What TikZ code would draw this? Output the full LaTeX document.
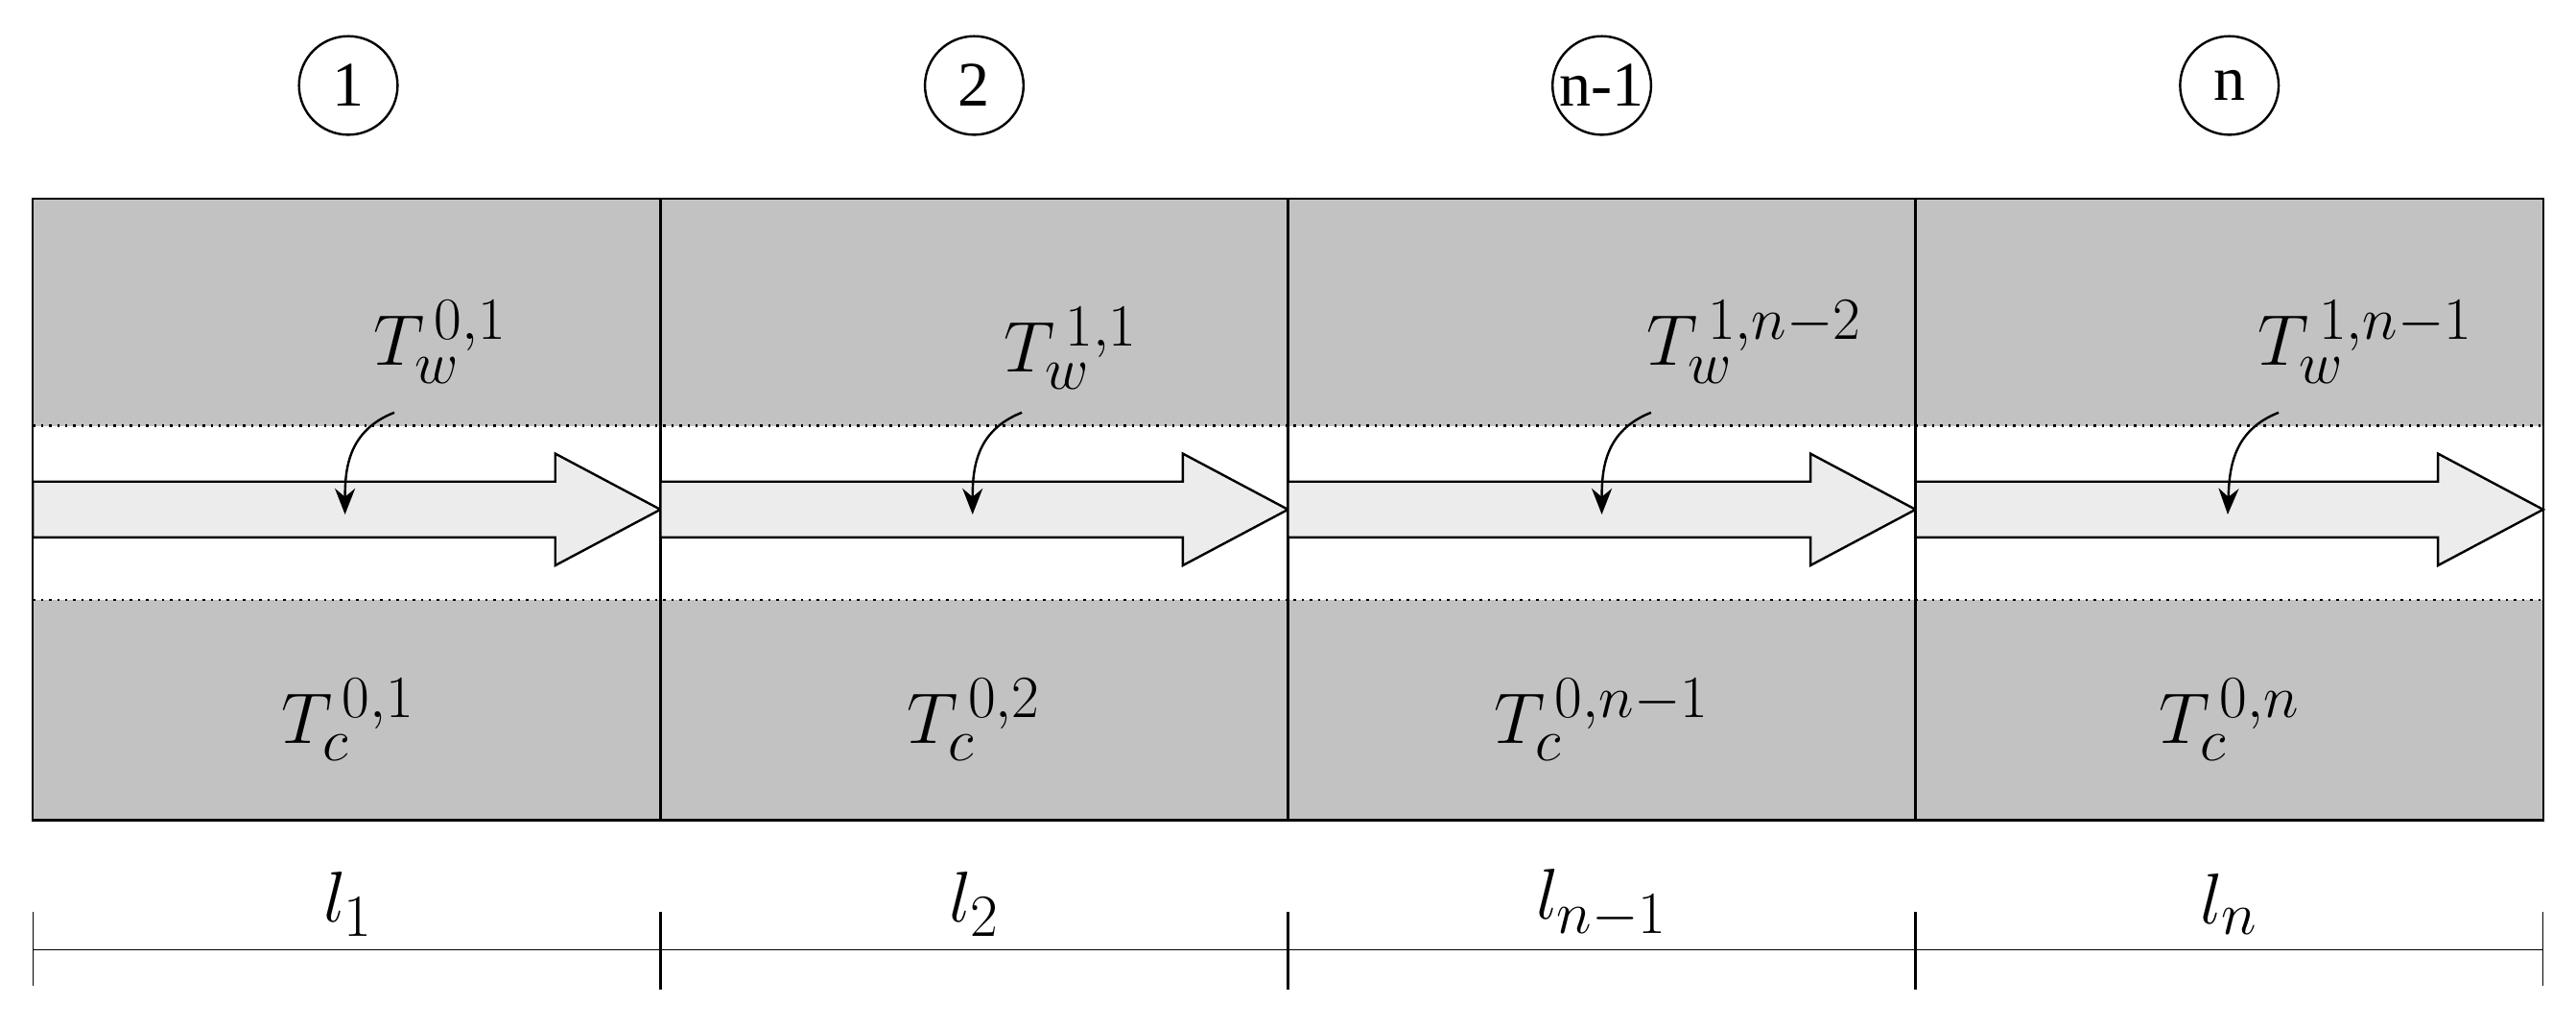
\documentclass[tikz,border=0pt]{standalone}
\usepackage{fontspec}
\setmainfont{Liberation Serif}
\usetikzlibrary{arrows.meta}
\begin{document}
\begin{tikzpicture}[x=0.02cm,y=-0.02cm,
  num/.style={circle,draw,thick,minimum size=1.2cm,inner sep=0pt,font=\fontsize{22}{24}\selectfont},
  lab/.style={font=\fontsize{30}{32}\selectfont},
  dim/.style={font=\fontsize{30}{32}\selectfont},
  flow/.style={draw,thick,fill=gray!15},
  curv/.style={thick,-{Stealth[length=9pt,width=7pt]}}]
\useasboundingbox (0,0) rectangle (1568,625);
\fill[gray!48] (20,121) rectangle (1548,499);
\fill[white] (20,259) rectangle (1548,365);
\draw[thick,dotted] (20,259) -- (1548,259) (20,365) -- (1548,365);
\draw[thick] (20,121) rectangle (1548,499);
\foreach \a in {402,784,1166} \draw[thick] (\a,121) -- (\a,499);
\foreach \s/\i in {0/a,382/b,764/c,1146/d}{
  \draw[flow] (20+\s,293) -- (338+\s,293) -- (338+\s,276) -- (402+\s,310) -- (338+\s,344) -- (338+\s,327) -- (20+\s,327) -- cycle;
}
\node[num] (n1) at (212,52) {1};
\node[num] (n2) at (593,52) {2};
\node[num] (n3) at (975,52) {n-1};
\node[num] (n4) at (1357,52) {n};
\node[lab] (w1) at (268,208) {$T_w^{\,0,1}$};
\node[lab] (w2) at (652,212) {$T_w^{\,1,1}$};
\node[lab] (w3) at (1068,208) {$T_w^{\,1,n-2}$};
\node[lab] (w4) at (1440,208) {$T_w^{\,1,n-1}$};
\coordinate (e1) at (210,313); \coordinate (e2) at (592,313);
\coordinate (e3) at (975,313); \coordinate (e4) at (1356,313);
\draw[curv] (240,251) .. controls (212,262) and (210,285) .. (e1);
\draw[curv] (622,251) .. controls (594,262) and (592,285) .. (e2);
\draw[curv] (1005,251) .. controls (977,262) and (975,285) .. (e3);
\draw[curv] (1387,251) .. controls (1359,262) and (1357,285) .. (e4);
\node[lab] (c1) at (212,438) {$T_c^{\,0,1}$};
\node[lab] (c2) at (593,438) {$T_c^{\,0,2}$};
\node[lab] (c3) at (975,438) {$T_c^{\,0,n-1}$};
\node[lab] (c4) at (1357,438) {$T_c^{\,0,n}$};
\draw (20,578) -- (1548,578);
\foreach \a in {20,1548} \draw (\a,555) -- (\a,600);
\foreach \a in {402,784,1166} \draw[thick] (\a,555) -- (\a,602);
\node[dim] (l1) at (212,550) {$l_1$};
\node[dim] (l2) at (593,550) {$l_2$};
\node[dim] (l3) at (975,550) {$l_{n-1}$};
\node[dim] (l4) at (1357,550) {$l_n$};
\end{tikzpicture}
\end{document}
